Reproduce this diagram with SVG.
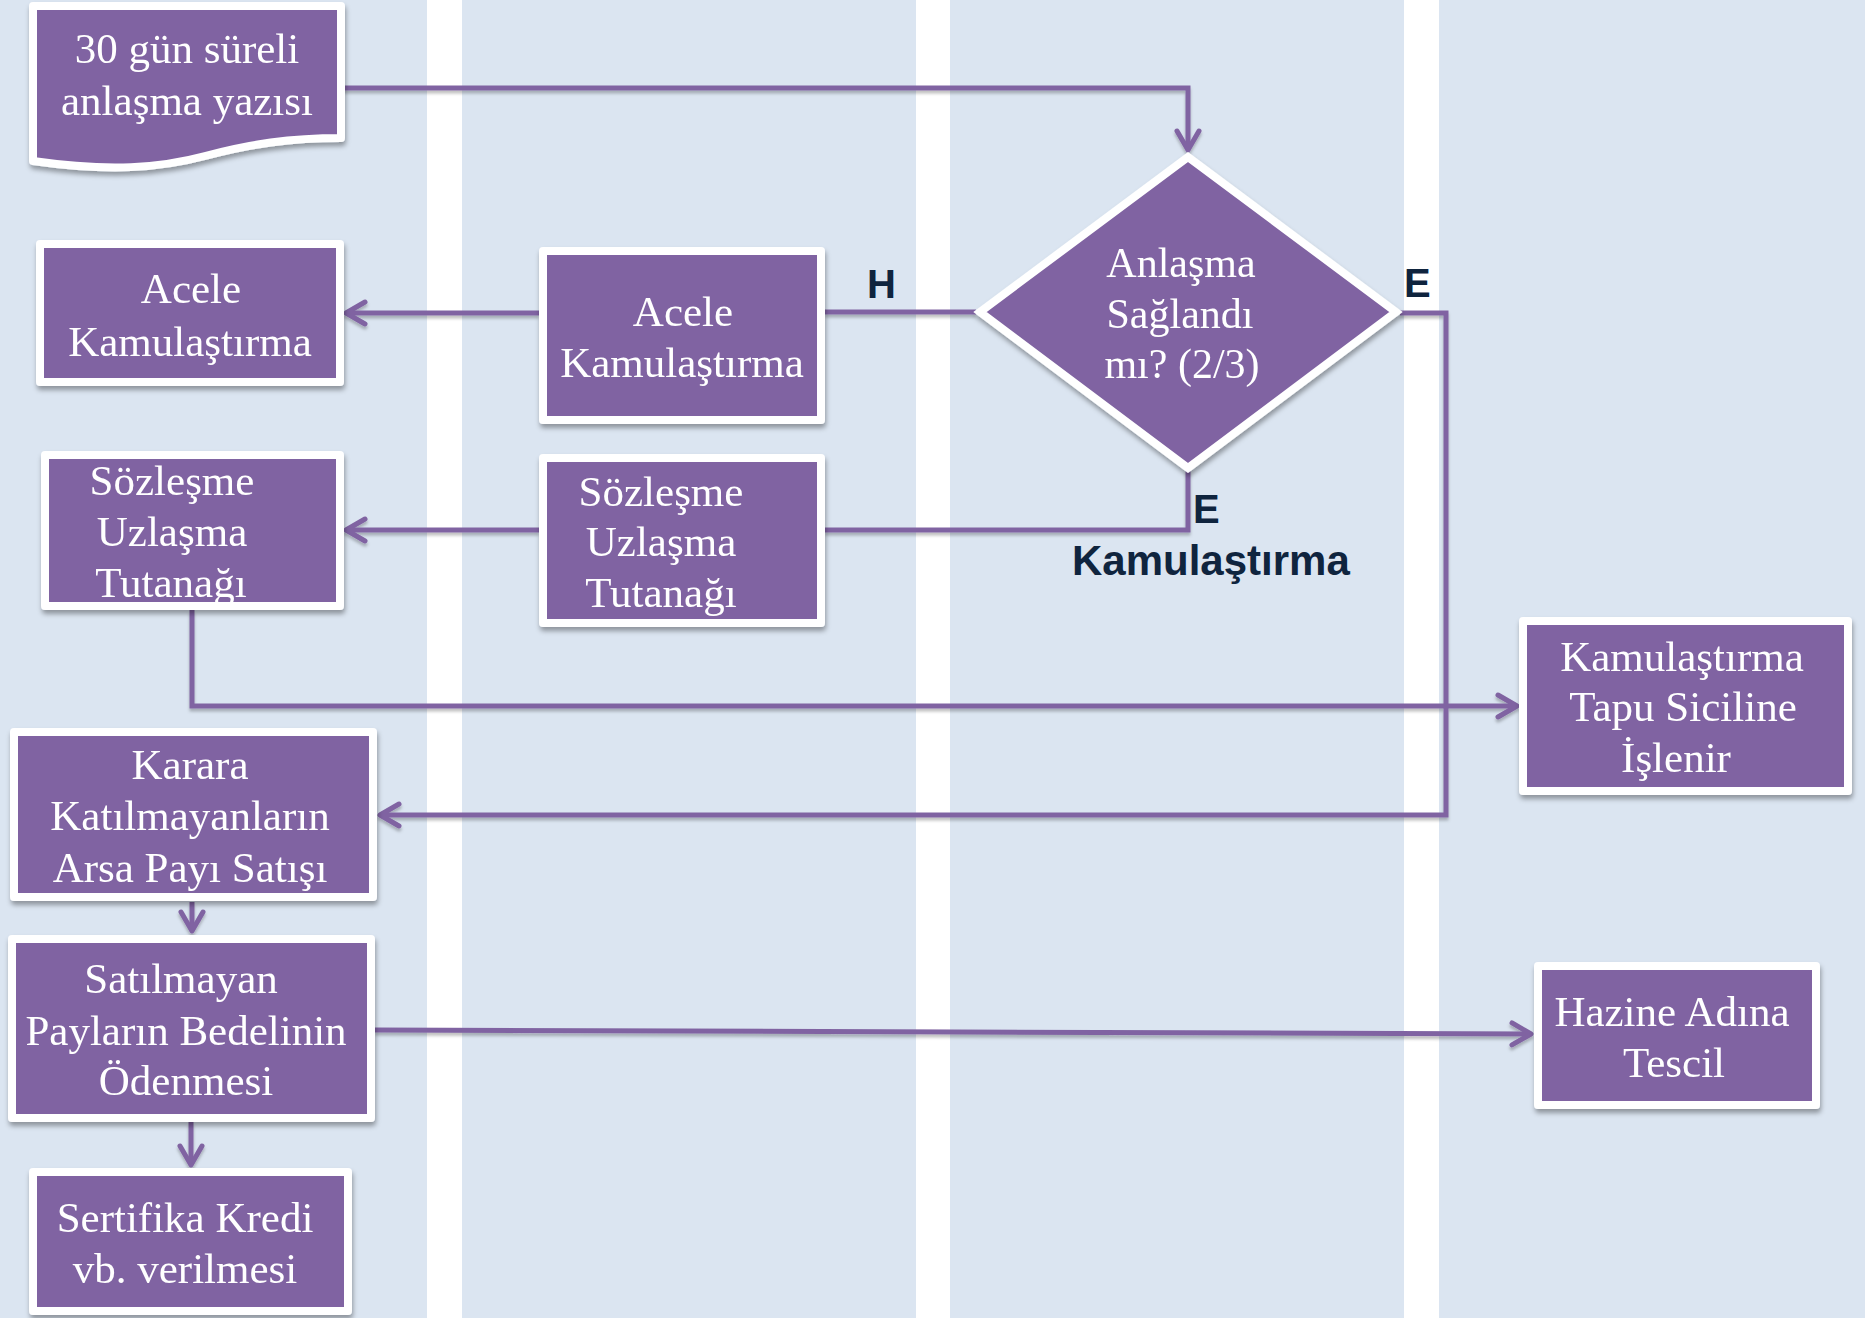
<svg xmlns="http://www.w3.org/2000/svg" width="1865" height="1318" viewBox="0 0 1865 1318">
<defs>
<style>
.lane{fill:#DBE5F1}
.node{fill:#8064A2;stroke:#FFFFFF;stroke-width:8;stroke-linejoin:round}
.dia{fill:#8064A2;stroke:#FFFFFF;stroke-width:8;stroke-linejoin:miter}
.t{font-family:"Liberation Serif","Times New Roman",serif;font-size:43px;fill:#FFFFFF;text-anchor:middle}
.td{font-size:42px}
.lbl{font-family:"Liberation Sans",Arial,sans-serif;font-weight:bold;font-size:40px;fill:#0F243E}
.conn{fill:none;stroke:#8064A2;stroke-width:5;stroke-linejoin:miter}
</style>
<filter id="sh" x="-10%" y="-10%" width="120%" height="130%">
<feDropShadow dx="1" dy="4" stdDeviation="2.5" flood-color="#000000" flood-opacity="0.35"/>
</filter>
<filter id="lsh" x="-5%" y="-5%" width="110%" height="110%">
<feDropShadow dx="0" dy="3" stdDeviation="1.5" flood-color="#000000" flood-opacity="0.25"/>
</filter>
<marker id="arr" markerUnits="userSpaceOnUse" markerWidth="40" markerHeight="40" viewBox="-25 -20 40 40" refX="0" refY="0" orient="auto" overflow="visible">
<path d="M-19,-11 L0,0 L-19,11" fill="none" stroke="#8064A2" stroke-width="5" stroke-linecap="round" stroke-linejoin="round"/>
</marker>
</defs>
<rect x="0" y="0" width="1865" height="1318" fill="#FFFFFF"/>
<g id="lanes">
<rect class="lane" x="0" y="0" width="427" height="1318"/>
<rect class="lane" x="462" y="0" width="454" height="1318"/>
<rect class="lane" x="950" y="0" width="454" height="1318"/>
<rect class="lane" x="1439" y="0" width="426" height="1318"/>
</g>
<g id="connectors" filter="url(#lsh)">
<path class="conn" d="M343,88 H1188 V150" marker-end="url(#arr)"/>
<path class="conn" d="M976,312 H825"/>
<path class="conn" d="M539,313 H346" marker-end="url(#arr)"/>
<path class="conn" d="M1188,470 V530 H825"/>
<path class="conn" d="M539,530 H346" marker-end="url(#arr)"/>
<path class="conn" d="M192,610 V706 H1517" marker-end="url(#arr)"/>
<path class="conn" d="M1400,313 H1446 V815 H380" marker-end="url(#arr)"/>
<path class="conn" d="M192,902 V931" marker-end="url(#arr)"/>
<path class="conn" d="M191,1122 V1165" marker-end="url(#arr)"/>
<path class="conn" d="M375,1030 L1531,1034" marker-end="url(#arr)"/>
</g>
<g id="n-doc" filter="url(#sh)">
<path class="node" d="M33,6 H341 V138 C 290,138 250,144 205,156 C 160,168 110,172 33,161 Z"/>
<text class="t" x="187" y="63">30 gün süreli</text>
<text class="t" x="187" y="115">anlaşma yazısı</text>
</g>
<g id="n-acele-left" filter="url(#sh)">
<rect class="node" x="40" y="244" width="300" height="138"/>
<text class="t" x="191" y="303">Acele</text>
<text class="t" x="190" y="356">Kamulaştırma</text>
</g>
<g id="n-acele-mid" filter="url(#sh)">
<rect class="node" x="543" y="251" width="278" height="169"/>
<text class="t" x="683" y="326">Acele</text>
<text class="t" x="682" y="377">Kamulaştırma</text>
</g>
<g id="n-sozlesme-mid" filter="url(#sh)">
<rect class="node" x="543" y="458" width="278" height="165"/>
<text class="t" x="661" y="506">Sözleşme</text>
<text class="t" x="661" y="556">Uzlaşma</text>
<text class="t" x="661" y="607">Tutanağı</text>
</g>
<g id="n-sozlesme-left" filter="url(#sh)">
<rect class="node" x="45" y="455" width="295" height="151"/>
<text class="t" x="172" y="495">Sözleşme</text>
<text class="t" x="172" y="546">Uzlaşma</text>
<text class="t" x="171" y="597">Tutanağı</text>
</g>
<g id="n-decision" filter="url(#sh)">
<polygon class="dia" points="1188,157 1396,312 1188,468 980,312"/>
<text class="t td" x="1181" y="277">Anlaşma</text>
<text class="t td" x="1180" y="328">Sağlandı</text>
<text class="t td" x="1182" y="378">mı? (2/3)</text>
</g>
<g id="n-tapu" filter="url(#sh)">
<rect class="node" x="1523" y="621" width="325" height="170"/>
<text class="t" x="1682" y="671">Kamulaştırma</text>
<text class="t" x="1683" y="721">Tapu Siciline</text>
<text class="t" x="1676" y="772">İşlenir</text>
</g>
<g id="n-karara" filter="url(#sh)">
<rect class="node" x="14" y="732" width="359" height="165"/>
<text class="t" x="190" y="779">Karara</text>
<text class="t" x="190" y="830">Katılmayanların</text>
<text class="t" x="190" y="882">Arsa Payı Satışı</text>
</g>
<g id="n-satilmayan" filter="url(#sh)">
<rect class="node" x="12" y="939" width="359" height="179"/>
<text class="t" x="181" y="993">Satılmayan</text>
<text class="t" x="186" y="1045">Payların Bedelinin</text>
<text class="t" x="186" y="1095">Ödenmesi</text>
</g>
<g id="n-sertifika" filter="url(#sh)">
<rect class="node" x="33" y="1172" width="315" height="139"/>
<text class="t" x="185" y="1232">Sertifika Kredi</text>
<text class="t" x="185" y="1283">vb. verilmesi</text>
</g>
<g id="n-hazine" filter="url(#sh)">
<rect class="node" x="1538" y="966" width="278" height="139"/>
<text class="t" x="1672" y="1026">Hazine Adına</text>
<text class="t" x="1674" y="1077">Tescil</text>
</g>
<g id="labels">
<text class="lbl" x="867" y="298">H</text>
<text class="lbl" x="1404" y="297">E</text>
<text class="lbl" x="1193" y="523">E</text>
<text class="lbl" x="1072" y="575" style="font-size:42px">Kamulaştırma</text>
</g>
</svg>
